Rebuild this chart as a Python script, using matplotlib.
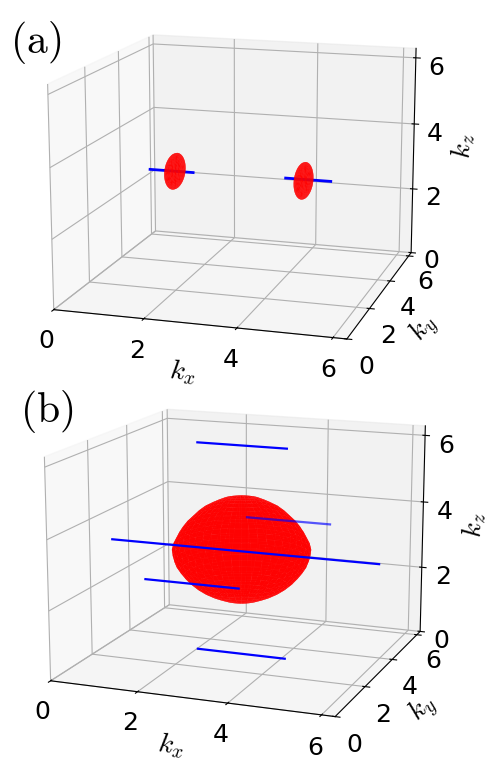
import numpy as np
import matplotlib
matplotlib.use('Agg')
import matplotlib.pyplot as plt

plt.rcParams['mathtext.fontset'] = 'cm'

ticks = [0, 2, 4, 6]
lim = 2 * np.pi

# panel (a): short lines along kx and two thin lenses
lines_a = [
    ([1.03, 2.03], [3.14, 3.14], [3.08, 3.08]),
    ([4.13, 5.13], [3.14, 3.14], [3.12, 3.12]),
]
lens_a_x = [1.61, 4.53]
lens_a_y = [3.14, 3.14]
lens_a_z = [3.08, 3.08]
lens_a_rx = 0.17
lens_a_rz = 0.52

# panel (b): lines, first one sits behind the ball so it looks paler
lines_b_back = [([2.05, 4.1], [6.2, 6.2], [3.1, 3.1])]
lines_b_front = [
    ([0.0, 6.2], [3.14, 3.14], [3.08, 3.08]),
    ([2.17, 4.2], [0.1, 0.1], [3.14, 3.14]),
    ([2.07, 4.12], [3.14, 3.14], [6.14, 6.14]),
    ([2.05, 4.1], [3.14, 3.14], [0.03, 0.03]),
]
ball_cx = 3.09
ball_hz = 1.52
ball_hr = 1.51
ball_z = [1.0, .995, .98, .95, .90, .85, .78, .70, .60, .50, .40, .30, .20, .10, 0,
          -.10, -.20, -.30, -.40, -.50, -.60, -.70, -.78, -.85, -.90, -.95, -.98, -.995, -1.0]
ball_r = [0, .10, .18, .28, .37, .45, .55, .63, .71, .79, .85, .90, .94, .98, 1.0,
          .99, .97, .94, .89, .83, .76, .67, .58, .48, .39, .29, .18, .10, 0]


def revolve(zs, rs, cx, cy, cz, sx=1.0):
    # surface of revolution around the kz direction
    phi = np.linspace(0, 2 * np.pi, 90)
    zz = np.array(zs)
    rr = np.array(rs)
    X = cx + sx * np.outer(rr, np.cos(phi))
    Y = cy + np.outer(rr, np.sin(phi))
    Z = cz + np.outer(zz, np.ones_like(phi))
    return X, Y, Z


def setup(ax, letter, lx, ly, azim):
    ax.patch.set_alpha(0)
    ax.view_init(elev=14, azim=azim)
    ax.set_proj_type('persp', focal_length=0.85)
    ax.set_box_aspect((4, 4, 3.05), zoom=1.18)
    ax.set_xlim(0, lim)
    ax.set_ylim(0, lim)
    ax.set_zlim(0, lim)
    ax.set_xticks(ticks)
    ax.set_yticks(ticks)
    ax.set_zticks(ticks)
    ax.tick_params(labelsize=18, pad=1)
    ax.set_xlabel(r'$k_x$', fontsize=20, labelpad=0)
    ax.set_ylabel(r'$k_y$', fontsize=20, labelpad=1)
    ax.set_zlabel(r'$k_z$', fontsize=20, labelpad=1)
    fig.text(lx, ly, r'$\mathrm{(%s)}$' % letter, fontsize=30, va='center')


fig = plt.figure(figsize=(4.96, 7.66), dpi=100)

ax1 = fig.add_axes([0.002, 0.516, 0.95, 0.5], projection='3d', computed_zorder=False)
setup(ax1, 'a', 0.02, 0.945, -73)
for xs, ys, zs in lines_a:
    ax1.plot(xs, ys, zs, color='blue', lw=2, zorder=1)
unit_z = np.linspace(-1, 1, 31)
unit_r = np.sqrt(1 - unit_z ** 2)
for cx, cy, cz in zip(lens_a_x, lens_a_y, lens_a_z):
    X, Y, Z = revolve(unit_z * lens_a_rz, unit_r * lens_a_rz, cx, cy, cz, sx=lens_a_rx / lens_a_rz)
    ax1.plot_surface(X, Y, Z, color='red', shade=False, linewidth=0, antialiased=True, alpha=0.9, zorder=2)

ax2 = fig.add_axes([0.006, 0.026, 0.95, 0.5], projection='3d', computed_zorder=False)
setup(ax2, 'b', 0.04, 0.463, -69)
X, Y, Z = revolve(np.array(ball_z) * ball_hz, np.array(ball_r) * ball_hr, ball_cx, np.pi, np.pi)
ax2.plot_surface(X, Y, Z, color='red', shade=False, linewidth=0, antialiased=True, alpha=0.9, zorder=2)
for xs, ys, zs in lines_b_back:
    ax2.plot(xs, ys, zs, color='blue', lw=1.6, alpha=0.65, zorder=3)
for xs, ys, zs in lines_b_front:
    ax2.plot(xs, ys, zs, color='blue', lw=1.6, zorder=3)

plt.savefig('out.png', dpi=100)
